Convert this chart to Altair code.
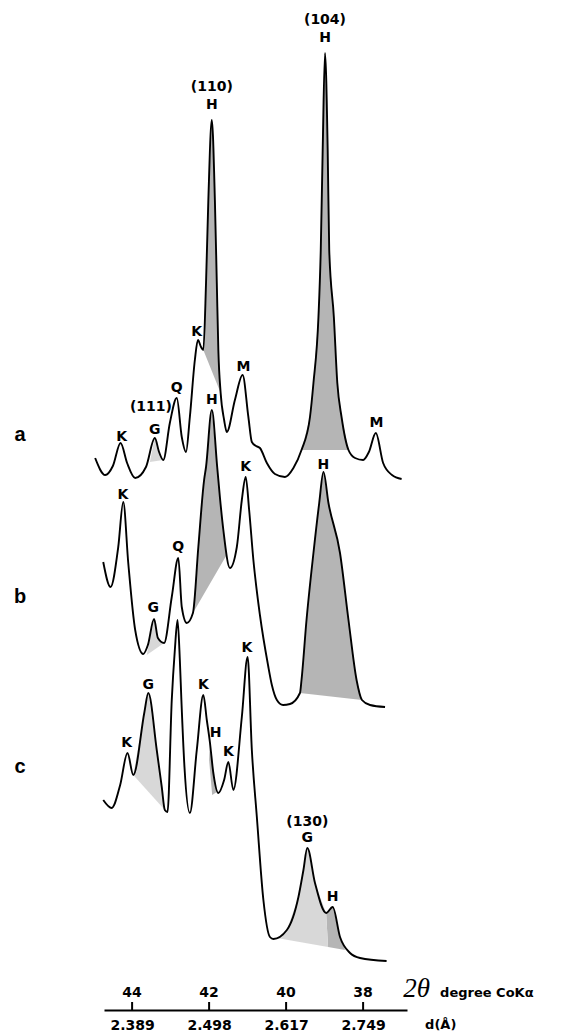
import altair as alt
import pandas as pd

# ---- traces (2theta in degrees, intensity in arbitrary offset units) ----
a_two_theta = [44.96, 44.70, 44.50, 44.30, 44.13, 43.92, 43.64, 43.41, 43.30, 43.19, 43.02, 42.84, 42.71, 42.60,
               42.50, 42.37, 42.29, 42.21, 42.15, 42.08, 42.02, 41.93, 41.85, 41.80, 41.76, 41.70, 41.61, 41.54,
               41.33, 41.13, 40.98, 40.89, 40.78, 40.68, 40.50, 40.29, 40.03, 39.81, 39.60, 39.38, 39.29, 39.16,
               39.10, 39.05, 38.99, 38.92, 38.88, 38.76, 38.67, 38.56, 38.38, 38.21, 38.00, 37.85, 37.67, 37.48,
               37.25, 37.00]
a_counts = [552, 535, 544, 567, 547, 532, 543, 572, 558, 550, 587, 612, 573, 558,
            593, 650, 670, 663, 660, 727, 810, 890, 810, 727, 660, 617, 590, 578,
            610, 635, 593, 568, 564, 562, 547, 536, 533, 542, 560, 593, 627, 693,
            760, 860, 957, 860, 760, 693, 627, 593, 560, 552, 550, 558, 577, 547,
            535, 531]

b_two_theta = [44.75, 44.56, 44.36, 44.23, 44.10, 43.92, 43.71, 43.59, 43.43, 43.33, 43.17, 42.97, 42.80, 42.71,
               42.58, 42.42, 42.28, 42.13, 42.08, 41.93, 41.79, 41.72, 41.63, 41.46, 41.28, 41.15, 41.05, 40.96,
               40.85, 40.68, 40.47, 40.37, 40.24, 40.08, 39.90, 39.64, 39.60, 39.47, 39.29, 39.14, 39.03, 38.90,
               38.60, 38.38, 38.17, 38.03, 37.82, 37.43]
b_counts = [448, 423, 463, 508, 447, 380, 356, 365, 391, 372, 367, 413, 452, 403,
            387, 397, 463, 530, 543, 600, 543, 513, 480, 442, 463, 510, 533, 500,
            450, 395, 345, 325, 310, 305, 306, 317, 330, 390, 457, 507, 538, 507,
            457, 390, 330, 310, 305, 303]

c_two_theta = [44.75, 44.53, 44.31, 44.12, 43.97, 43.68, 43.58, 43.36, 43.23, 43.15, 43.08, 42.97, 42.89, 42.82,
               42.76, 42.72, 42.64, 42.50, 42.32, 42.15, 42.06, 41.98, 41.89, 41.76, 41.61, 41.50, 41.37, 41.15,
               41.00, 40.89, 40.76, 40.59, 40.42, 40.33, 39.98, 39.68, 39.55, 39.45, 39.25, 38.96, 38.79, 38.60,
               38.34, 38.08, 37.39]
c_counts = [210, 202, 225, 257, 235, 298, 317, 260, 223, 200, 198, 310, 360, 390,
            350, 310, 243, 197, 260, 315, 290, 268, 237, 217, 230, 248, 220, 293,
            353, 260, 193, 110, 73, 71, 80, 113, 140, 162, 127, 97, 103, 73,
            57, 52, 49]

# ---- shaded regions (polygons) ----
hatch_a110_theta = [42.15, 42.08, 42.02, 41.93, 41.85, 41.80, 41.76, 41.70]
hatch_a110_counts = [660, 727, 810, 890, 810, 727, 660, 617]
hatch_a104_theta = [39.60, 39.38, 39.29, 39.16, 39.10, 39.05, 38.99, 38.92, 38.88, 38.76, 38.67, 38.56, 38.38]
hatch_a104_counts = [560, 593, 627, 693, 760, 860, 957, 860, 760, 693, 627, 593, 560]
hatch_b110_theta = [42.42, 42.28, 42.13, 42.08, 41.93, 41.79, 41.72, 41.63, 41.56]
hatch_b110_counts = [397, 463, 530, 543, 600, 543, 513, 480, 454]
hatch_b104_theta = [39.64, 39.60, 39.47, 39.29, 39.14, 39.03, 38.90, 38.60, 38.38, 38.17, 38.03]
hatch_b104_counts = [317, 330, 390, 457, 507, 538, 507, 457, 390, 330, 310]
hatch_cH_theta = [41.98, 41.89, 41.80, 41.92, 42.00]
hatch_cH_counts = [268, 237, 218, 215, 250]
hatch_cH130_theta = [38.96, 38.79, 38.60, 38.47, 38.91]
hatch_cH130_counts = [97, 103, 73, 60, 63]

dots_aG_theta = [43.54, 43.41, 43.30, 43.19]
dots_aG_counts = [548, 572, 558, 550]
dots_bG_theta = [43.43, 43.33, 43.17, 43.62]
dots_bG_counts = [391, 372, 367, 355]
dots_cG_theta = [43.97, 43.68, 43.58, 43.36, 43.23, 43.15]
dots_cG_counts = [235, 298, 317, 260, 223, 200]
dots_cG130_theta = [40.24, 39.98, 39.68, 39.55, 39.45, 39.25, 38.96, 38.91]
dots_cG130_counts = [72, 80, 113, 140, 162, 127, 97, 63]

# ---- peak labels ----
peak_text = ["(104)", "H", "(110)", "H",
             "K", "G", "(111)", "Q", "K", "M", "M",
             "H", "K", "G", "Q", "K", "H",
             "K", "G", "K", "H", "K", "K", "(130)", "G", "H"]
peak_theta = [38.99, 38.99, 41.93, 41.93,
              44.27, 43.41, 43.51, 42.84, 42.32, 41.11, 37.65,
              41.93, 44.24, 43.45, 42.80, 41.05, 39.03,
              44.14, 43.58, 42.15, 41.83, 41.50, 41.02, 39.45, 39.45, 38.79]
peak_counts = [990, 972, 923, 905,
               573, 580, 603, 622, 678, 643, 587,
               610, 515, 402, 463, 543, 545,
               267, 325, 325, 277, 258, 362, 188, 172, 113]

row_text = ["a", "b", "c"]
row_theta = [46.91, 46.91, 46.91]
row_counts = [575, 413, 243]

tick_values = [44, 42, 40, 38]
d_labels = ["2.389", "2.498", "2.617", "2.749"]

# ---- build tables ----
rows = []
for name, th, ct in [("a", a_two_theta, a_counts), ("b", b_two_theta, b_counts), ("c", c_two_theta, c_counts)]:
    for t, c in zip(th, ct):
        rows.append({"trace": name, "theta": t, "counts": c})
traces = pd.DataFrame(rows)


def polys(items):
    out = []
    for pid, (th, ct) in enumerate(items):
        for i, (t, c) in enumerate(zip(th, ct)):
            out.append({"pid": pid, "i": i, "theta": t, "counts": c})
    return pd.DataFrame(out)


hatch = polys([(hatch_a110_theta, hatch_a110_counts), (hatch_a104_theta, hatch_a104_counts),
               (hatch_b110_theta, hatch_b110_counts), (hatch_b104_theta, hatch_b104_counts),
               (hatch_cH_theta, hatch_cH_counts), (hatch_cH130_theta, hatch_cH130_counts)])
dots = polys([(dots_aG_theta, dots_aG_counts), (dots_bG_theta, dots_bG_counts),
              (dots_cG_theta, dots_cG_counts), (dots_cG130_theta, dots_cG130_counts)])

labels = pd.DataFrame({"text": peak_text, "theta": peak_theta, "counts": peak_counts})
rowlab = pd.DataFrame({"text": row_text, "theta": row_theta, "counts": row_counts})
ticks = pd.DataFrame({"theta": tick_values, "lo": [0] * 4, "hi": [8] * 4,
                      "lab": [str(v) for v in tick_values], "ly": [17] * 4})

label_expr = " : ".join(
    f"datum.value == {v} ? '{d}'" for v, d in zip(tick_values[:-1], d_labels[:-1])
) + f" : '{d_labels[-1]}'"

xscale = alt.Scale(domain=[44.73, 36.86], nice=False, zero=False)
yscale = alt.Scale(domain=[0, 1000], nice=False, zero=False)

X = alt.X("theta:Q", scale=xscale,
          axis=alt.Axis(values=tick_values, labelExpr=label_expr, ticks=False, grid=False,
                        domain=True, domainColor="black", domainWidth=2, title=None,
                        labelFont="DejaVu Sans", labelFontWeight="bold", labelFontSize=14,
                        labelColor="black", labelPadding=8))
Y = alt.Y("counts:Q", scale=yscale, axis=None)
XS = alt.X("theta:Q", scale=xscale)

hatch_layer = alt.Chart(hatch).mark_line(fill="#a3a3a3", fillOpacity=0.8, strokeOpacity=0,
                                         interpolate="linear").encode(
    x=X, y=Y, detail="pid:N", order="i:Q")
dots_layer = alt.Chart(dots).mark_line(fill="#d6d6d6", fillOpacity=0.95, strokeOpacity=0,
                                       interpolate="linear").encode(
    x=XS, y=Y, detail="pid:N", order="i:Q")

lines = alt.Chart(traces).mark_line(color="black", strokeWidth=1.9, interpolate="monotone").encode(
    x=XS, y=Y, detail="trace:N")

text_layer = alt.Chart(labels).mark_text(font="DejaVu Sans", fontWeight="bold", fontSize=14,
                                         baseline="middle", align="center", color="black").encode(
    x=XS, y=Y, text="text:N")

row_layer = alt.Chart(rowlab).mark_text(font="Liberation Sans", fontWeight="bold", fontSize=20,
                                        baseline="middle", align="center", color="black").encode(
    x=XS, y=Y, text="text:N")

tick_layer = alt.Chart(ticks).mark_rule(color="black", strokeWidth=2).encode(
    x=XS, y=alt.Y("lo:Q", scale=yscale, axis=None), y2="hi:Q")
tick_text = alt.Chart(ticks).mark_text(font="DejaVu Sans", fontWeight="bold", fontSize=14,
                                       baseline="middle", align="center", color="black").encode(
    x=XS, y=alt.Y("ly:Q", scale=yscale, axis=None), text="lab:N")

title_df = pd.DataFrame({"text": ["2θ"], "theta": [36.96], "counts": [21]})
title_layer = alt.Chart(title_df).mark_text(font="Liberation Serif", fontStyle="italic", fontSize=27,
                                            baseline="middle", align="left", color="black").encode(
    x=XS, y=Y, text="text:N")
unit_df = pd.DataFrame({"text": ["degree CoKα", "d(Å)"], "theta": [36.00, 36.39], "counts": [17, -15]})
unit_layer = alt.Chart(unit_df).mark_text(font="DejaVu Sans", fontWeight="bold", fontSize=13,
                                          baseline="middle", align="left", color="black").encode(
    x=XS, y=Y, text="text:N")

chart = alt.layer(
    hatch_layer, dots_layer, lines, text_layer, row_layer, tick_layer, tick_text, title_layer, unit_layer
).properties(
    width=303, height=1000,
    autosize=alt.AutoSizeParams(type="none"),
    padding={"left": 96, "top": 2, "right": 160, "bottom": 25},
).configure(background="white").configure_view(strokeWidth=0, stroke="transparent")

chart.save("out.html", embed_options={"renderer": "svg", "actions": False})
